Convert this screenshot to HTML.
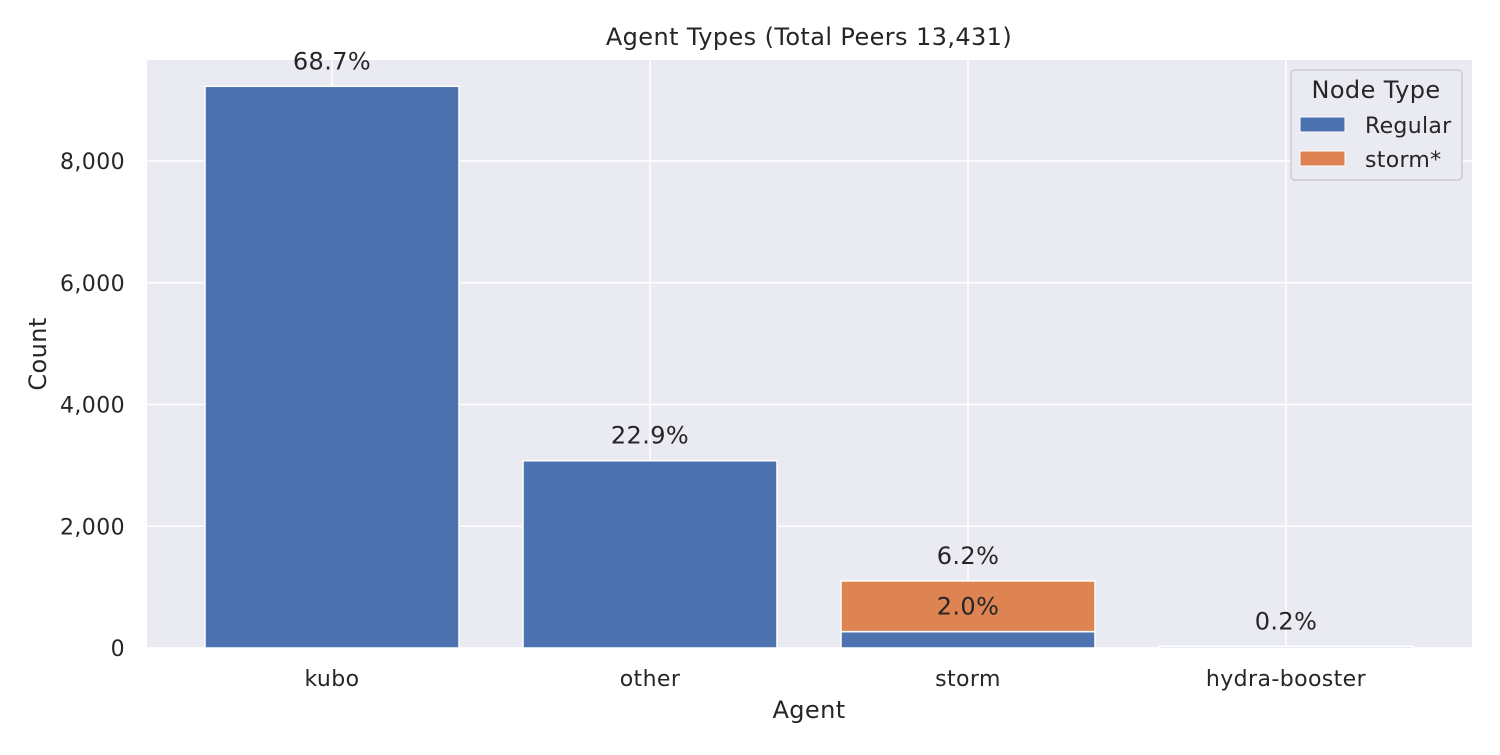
<!DOCTYPE html>
<html><head><meta charset="utf-8"><style>
body{margin:0;background:#fff;}
svg text{font-family:"DejaVu Sans","Liberation Sans",sans-serif;fill:#262626;}
</style></head><body>
<svg id="chart" width="1500" height="750">
<rect x="147" y="60" width="1325" height="588" fill="#eaeaf2"/>
<g id="grid"></g><g id="bars"></g><g id="labels"></g>
<text x="809" y="45" font-size="24" letter-spacing="0.4" text-anchor="middle">Agent Types (Total Peers 13,431)</text>
<text x="809" y="718" font-size="24" letter-spacing="0.4" text-anchor="middle">Agent</text>
<text x="46" y="354" font-size="24" letter-spacing="0.4" text-anchor="middle" transform="rotate(-90 46 354)">Count</text>
<g>
<rect x="1291" y="70" width="171" height="110" rx="4" fill="#eaeaf2" stroke="#cccccc" stroke-width="1.5"/>
<text x="1376" y="98" font-size="24" letter-spacing="0.4" text-anchor="middle">Node Type</text>
<rect x="1300" y="117" width="45" height="15" fill="#4c72b0" stroke="#fff"/>
<text x="1365" y="133" font-size="22" letter-spacing="0.3">Regular</text>
<rect x="1300" y="151" width="45" height="15" fill="#dd8452" stroke="#fff"/>
<text x="1365" y="167" font-size="22" letter-spacing="0.3">storm*</text>
</g>
</svg>
<script>
const categories=["kubo","other","storm","hydra-booster"];
const regular=[9227,3076,269,27];
const stormStar=[0,0,833,0];
const regularLabels=["68.7%","22.9%","2.0%","0.2%"];
const stormLabels=["","","6.2%",""];
const yTicks=[0,2000,4000,6000,8000];
const ns="http://www.w3.org/2000/svg";
const y=v=>648-v*0.060875;
const x=i=>332+i*318;
const bw=254;
function mk(tag,attrs,parent){const e=document.createElementNS(ns,tag);for(const k in attrs)e.setAttribute(k,attrs[k]);document.getElementById(parent).appendChild(e);return e;}
yTicks.forEach(t=>{
 const l=mk('line',{x1:147,x2:1472,y1:y(t),y2:y(t),stroke:'#fff','stroke-width':1.5},'grid');
 
 
 const tx=mk('text',{x:125,y:y(t)+8,'font-size':22,'letter-spacing':0.4,'text-anchor':'end'},'grid');
 tx.textContent=t.toLocaleString('en-US');
 
 
});
categories.forEach((c,i)=>{
 const l=mk('line',{x1:x(i),x2:x(i),y1:60,y2:648,stroke:'#fff','stroke-width':1.5},'grid');
 
 
 const tx=mk('text',{x:x(i),y:686,'font-size':22,'letter-spacing':0.4,'text-anchor':'middle'},'grid');
 tx.textContent=c;
 
 
 const b=mk('rect',{x:x(i)-bw/2,y:y(regular[i]),width:bw,height:648-y(regular[i]),fill:'#4c72b0',stroke:'#fff','stroke-width':1.5},'bars');
 
 
 if(stormStar[i]>0){
  const s=mk('rect',{x:x(i)-bw/2,y:y(regular[i]+stormStar[i]),width:bw,height:y(regular[i])-y(regular[i]+stormStar[i]),fill:'#dd8452',stroke:'#fff','stroke-width':1.5},'bars');
  
  
  const st=mk('text',{x:x(i),y:y(regular[i]+stormStar[i])-17,'font-size':24,'letter-spacing':0.4,'text-anchor':'middle'},'labels');
  st.textContent=stormLabels[i];
  
  
 }
 const rt=mk('text',{x:x(i),y:y(regular[i])-17,'font-size':24,'letter-spacing':0.4,'text-anchor':'middle'},'labels');
 rt.textContent=regularLabels[i];
 
 
});
</script>
</body></html>
